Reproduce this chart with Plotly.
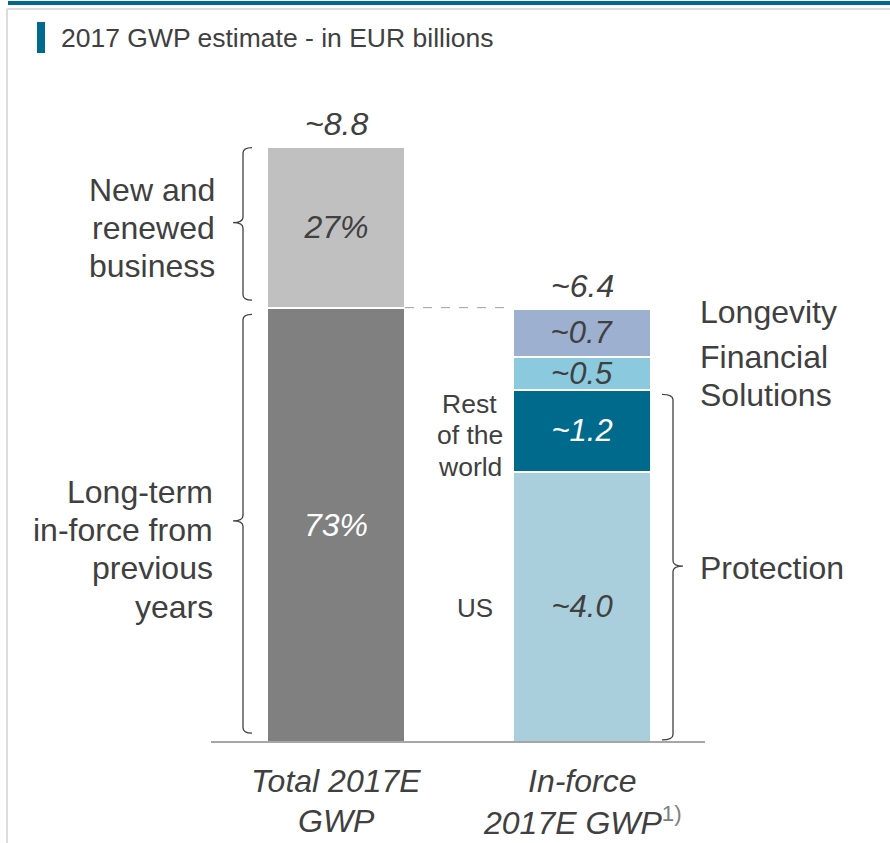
import plotly.graph_objects as go

# ---------------- data ----------------
categories = ["Total 2017E GWP", "In-force 2017E GWP"]
category_label_lines = [["Total 2017E", "GWP"],
                        ["In-force",
                         "2017E GWP<sup><span style='color:#808080;font-style:normal'>1)</span></sup>"]]
total_gwp = 8.8
total_parts = ["Long-term in-force from previous years", "New and renewed business"]
total_shares = [73, 27]          # percent
total_share_labels = ["73%", "27%"]
inforce_parts = ["US", "Rest of the world", "Financial Solutions", "Longevity"]
inforce_values = [4.0, 1.2, 0.5, 0.7]
inforce_value_labels = ["~4.0", "~1.2", "~0.5", "~0.7"]
inforce_total = 6.4
total_labels = ["~8.8", "~6.4"]
title_text = "2017 GWP estimate - in EUR billions"

# ---------------- style ----------------
FONT = "Liberation Sans, Arial, sans-serif"
TXT = "#404040"
TEAL = "#006a8e"
total_colors = ["#808080", "#c0c0c0"]
total_text_colors = ["white", TXT]
inforce_colors = ["#aacfdc", "#006a8c", "#8bc9de", "#9eb0cf"]
inforce_text_colors = [TXT, "white", TXT, TXT]
W, H = 890, 843
BAR_W = 0.561
VAL_SIZE = 32

fig = go.Figure()

for name, share, lab, col, tcol in zip(total_parts, total_shares, total_share_labels,
                                       total_colors, total_text_colors):
    fig.add_trace(go.Bar(
        x=[categories[0]], y=[total_gwp * share / 100], name=name,
        marker=dict(color=col, line=dict(color="white", width=2)),
        width=BAR_W, text=[lab], textposition="inside", insidetextanchor="middle",
        constraintext="none",
        textfont=dict(family=FONT, size=VAL_SIZE, color=tcol, style="italic"),
        hoverinfo="skip"))

for name, val, lab, col, tcol in zip(inforce_parts, inforce_values, inforce_value_labels,
                                     inforce_colors, inforce_text_colors):
    fig.add_trace(go.Bar(
        x=[categories[1]], y=[val], name=name,
        marker=dict(color=col, line=dict(color="white", width=2)),
        width=BAR_W, text=[lab], textposition="inside", insidetextanchor="middle",
        constraintext="none",
        textfont=dict(family=FONT, size=31, color=tcol, style="italic"),
        hoverinfo="skip"))

annotations = []
# totals above bars
for cat, tot, lab in zip(categories, [total_gwp, inforce_total], total_labels):
    annotations.append(dict(x=cat, y=tot, xref="x", yref="y", text=lab, showarrow=False,
                            yanchor="middle", yshift=23,
                            font=dict(family=FONT, size=VAL_SIZE, color=TXT, style="italic")))


def multiline(lines, x, y, anchor, size, spacing, xref="paper", xshift=0, italic=False):
    n = len(lines)
    for i, line in enumerate(lines):
        f = dict(family=FONT, size=size, color=TXT)
        if italic:
            f["style"] = "italic"
        annotations.append(dict(x=(x / W if xref == "paper" else x), y=y, xref=xref, yref="y",
                                text=line, showarrow=False, xanchor=anchor,
                                yanchor="middle", xshift=xshift,
                                yshift=-(i - (n - 1) / 2) * spacing, font=f))


# category labels below axis
for cat, lines in zip(categories, category_label_lines):
    multiline(lines, cat, -0.87, "center", 32, 39.5, xref="x", italic=True)

us_top = inforce_values[0]
row_top = us_top + inforce_values[1]
multiline(["New and", "renewed", "business"], 217, 7.6, "right", 32, 38)
multiline(["Long-term", "in-force from", "previous", "years"], 215, 2.85, "right", 32, 38.3)
multiline(["Longevity"], 698, 6.36, "left", 32, 38)
multiline(["Financial", "Solutions"], 698, 5.42, "left", 32, 38)
multiline(["Protection"], 698, 2.58, "left", 32, 38)
multiline(["Rest", "of the", "world"], 470, (us_top + row_top) / 2 - 0.06, "center", 26.5, 31.5)
multiline(["US"], 475, us_top / 2 - 0.02, "center", 26, 30)

# title
annotations.append(dict(x=59 / W, y=1 - 38 / H, xref="paper", yref="paper",
                        text=title_text, showarrow=False, xanchor="left", yanchor="middle",
                        font=dict(family=FONT, size=26.5, color=TXT)))

shapes = []
# frame decoration
shapes.append(dict(type="rect", xref="paper", yref="paper", x0=8 / W, x1=1,
                   y0=1 - 5 / H, y1=1 - 1 / H, fillcolor=TEAL, line=dict(width=0)))
shapes.append(dict(type="line", xref="paper", yref="paper", x0=7 / W, x1=1,
                   y0=1 - 9 / H, y1=1 - 9 / H, line=dict(color="#dcdcdc", width=2)))
shapes.append(dict(type="line", xref="paper", yref="paper", x0=7 / W, x1=7 / W,
                   y0=0, y1=1 - 9 / H, line=dict(color="#dcdcdc", width=2)))
shapes.append(dict(type="rect", xref="paper", yref="paper", x0=37 / W, x1=45 / W,
                   y0=1 - 53 / H, y1=1 - 22 / H, fillcolor=TEAL, line=dict(width=0)))
# baseline
shapes.append(dict(type="line", xref="paper", yref="y", x0=211 / W, x1=705 / W,
                   y0=0, y1=0, line=dict(color="#a6a6a6", width=2)))
# dashed connector
split = total_gwp * total_shares[0] / 100
shapes.append(dict(type="line", xref="paper", yref="y", x0=405 / W, x1=513 / W,
                   y0=split, y1=split, line=dict(color="#a0a0a0", width=1, dash="dash")))


def brace(xv, xhook, xtick, ytop, ymid, ybot, r=0.08):
    xv, xhook, xtick = xv / W, xhook / W, xtick / W
    p = (f"M {xhook} {ytop} Q {xv} {ytop} {xv} {ytop - r} "
         f"L {xv} {ymid + r} Q {xv} {ymid} {xtick} {ymid} "
         f"Q {xv} {ymid} {xv} {ymid - r} "
         f"L {xv} {ybot + r} Q {xv} {ybot} {xhook} {ybot}")
    shapes.append(dict(type="path", xref="paper", yref="y", path=p,
                       line=dict(color="#404040", width=1.3)))


brace(243, 252, 233, total_gwp - 0.01, 7.68, split + 0.11)
brace(243, 252, 233, split - 0.1, 3.27, 0.13)
brace(673, 662, 683, row_top - 0.06, 2.6, 0.03)

fig.update_layout(
    width=W, height=H, barmode="stack", showlegend=False,
    margin=dict(l=0, r=0, t=0, b=0),
    paper_bgcolor="white", plot_bgcolor="white",
    xaxis=dict(visible=False, type="category", categoryarray=categories,
               range=[-1.366, 2.252], fixedrange=True),
    yaxis=dict(visible=False, range=[-1.494, 10.974], fixedrange=True),
    annotations=annotations, shapes=shapes,
)

fig.write_html("out.html")
